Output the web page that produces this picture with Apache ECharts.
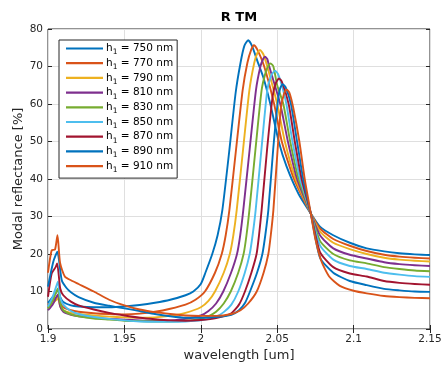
<!DOCTYPE html>
<html>
<head>
<meta charset="utf-8">
<script src="https://cdn.jsdelivr.net/npm/echarts@6/dist/echarts.min.js"></script>
<style>
html,body{margin:0;padding:0;background:#fff;}
#chart{width:444px;height:368px;}
</style>
</head>
<body>
<div id="chart"></div>
<script>
// thickness h1 values (nm) for each series
const h1Values = [750, 770, 790, 810, 830, 850, 870, 890, 910];
const seriesColors = ['#0072BD', '#D95319', '#EDB120', '#7E2F8E', '#77AC30', '#4DBEEE', '#A2142F', '#0072BD', '#D95319'];
const xTicks = [1.9, 1.95, 2, 2.05, 2.1, 2.15];
const yTicks = [0, 10, 20, 30, 40, 50, 60, 70, 80];

// [wavelength um, modal reflectance %]
const r750 = [[1.9,7],[1.903,8.5],[1.9055,9.8],[1.9065,10.5],[1.908,8.5],[1.91,7.2],[1.915,6.3],[1.92,6],[1.93,5.8],[1.94,5.8],[1.95,6],[1.96,6.4],[1.97,7],[1.98,7.8],[1.99,9],[1.9951,10],[2.0,12],[2.003,15],[2.0075,20],[2.011,25],[2.0141,31.7],[2.0185,47],[2.0228,63],[2.026,71],[2.0285,75.5],[2.031,77],[2.0335,75.5],[2.037,71.5],[2.041,67],[2.0455,60],[2.051,50],[2.056,43.5],[2.064,36],[2.072,30.8],[2.078,27.3],[2.0867,25],[2.0975,23],[2.1086,21.5],[2.12,20.7],[2.13,20.2],[2.14,19.9],[2.15,19.7]];
const r770 = [[1.9,6.5],[1.903,7.5],[1.9055,8.5],[1.9065,9],[1.908,7],[1.91,5.8],[1.915,5],[1.92,4.6],[1.93,4.2],[1.94,4],[1.95,3.9],[1.96,4.1],[1.97,4.6],[1.98,5.4],[1.99,6.5],[1.9965,7.8],[2.0027,10],[2.0093,15],[2.0137,20],[2.0163,25],[2.0187,31.7],[2.0231,48],[2.0274,63.7],[2.0305,71],[2.033,74.5],[2.0348,75.7],[2.037,74.5],[2.0415,70],[2.048,60],[2.053,50],[2.061,40],[2.072,30.8],[2.078,26.8],[2.0867,24],[2.0975,22.2],[2.1086,20.8],[2.12,19.8],[2.13,19.3],[2.14,19],[2.15,18.8]];
const r790 = [[1.9,5.5],[1.903,6.8],[1.9055,7.8],[1.9065,8.2],[1.908,6],[1.91,5],[1.915,4.3],[1.92,4],[1.93,3.6],[1.94,3.3],[1.95,3.1],[1.96,3],[1.97,3.1],[1.98,3.5],[1.99,4.3],[2.0,5.8],[2.005,7.5],[2.0093,10],[2.015,15],[2.019,20],[2.0213,25],[2.0235,31.7],[2.0277,48],[2.0318,63.7],[2.035,71],[2.037,73.6],[2.0387,74.4],[2.041,73.2],[2.0435,70],[2.05,60],[2.055,50],[2.062,40],[2.072,30.8],[2.078,26],[2.0867,23],[2.0975,21.3],[2.1086,20],[2.12,19],[2.13,18.5],[2.14,18.2],[2.15,18]];
const r810 = [[1.9,5],[1.903,6.5],[1.9055,8.5],[1.9065,9.2],[1.908,6],[1.91,4.6],[1.915,3.8],[1.92,3.4],[1.93,3],[1.94,2.7],[1.95,2.5],[1.96,2.3],[1.97,2.2],[1.98,2.3],[1.99,2.7],[2.0,3.6],[2.005,4.8],[2.01,6.8],[2.0147,10],[2.0198,15],[2.0237,20],[2.0258,25],[2.0278,31.7],[2.032,48],[2.0361,63.7],[2.039,70],[2.0408,72],[2.042,72.6],[2.0435,72],[2.0448,70],[2.052,60],[2.057,50],[2.063,40],[2.072,30.8],[2.078,25],[2.0867,21.5],[2.0975,19.8],[2.1086,18.8],[2.12,17.8],[2.13,17.3],[2.14,17],[2.15,16.8]];
const r830 = [[1.9,5.5],[1.903,7.5],[1.9055,10],[1.9065,10.8],[1.908,7],[1.91,5],[1.915,3.9],[1.92,3.4],[1.93,2.8],[1.94,2.5],[1.95,2.2],[1.96,2.1],[1.97,2],[1.98,2],[1.99,2.2],[2.0,2.7],[2.005,3.4],[2.01,4.6],[2.015,6.8],[2.0196,10],[2.0245,15],[2.028,20],[2.0299,25],[2.0318,31.7],[2.0358,48],[2.0398,63.7],[2.0425,68.5],[2.0445,70.4],[2.0457,70.8],[2.0475,70],[2.05,65],[2.054,60],[2.0585,50],[2.064,40],[2.072,30.8],[2.078,23.5],[2.0867,20],[2.0975,18.3],[2.1086,17.5],[2.12,16.5],[2.13,16],[2.14,15.6],[2.15,15.4]];
const r850 = [[1.9,6],[1.903,8.5],[1.9055,11.5],[1.9065,12.6],[1.908,8.5],[1.91,6.5],[1.915,4.8],[1.92,4],[1.93,3.2],[1.94,2.7],[1.95,2.3],[1.96,2],[1.97,1.9],[1.98,1.9],[1.99,2],[2.0,2.3],[2.01,3.3],[2.015,4.5],[2.02,6.5],[2.0245,10],[2.0288,15],[2.032,20],[2.0339,25],[2.0359,31.7],[2.0397,48],[2.0435,63.7],[2.046,67.5],[2.0486,68.9],[2.0505,68],[2.053,65],[2.056,60],[2.06,50],[2.065,40],[2.072,30.8],[2.078,22.3],[2.0867,18.5],[2.0975,16.8],[2.1086,16],[2.12,15],[2.13,14.5],[2.14,14.1],[2.15,13.9]];
const r870 = [[1.9,8.6],[1.9024,14.8],[1.905,16.5],[1.906,17.5],[1.908,10.8],[1.91,9],[1.915,7.3],[1.92,6.3],[1.93,5.2],[1.94,4.3],[1.95,3.6],[1.96,3],[1.97,2.6],[1.98,2.3],[1.99,2.2],[2.0,2.4],[2.01,2.9],[2.02,4.2],[2.025,6.5],[2.0289,10],[2.0331,15],[2.0365,20],[2.0381,25],[2.0398,31.7],[2.0434,48],[2.047,62],[2.049,65.5],[2.0512,66.8],[2.053,66],[2.0575,60],[2.0615,50],[2.066,40],[2.072,30.8],[2.078,20.5],[2.0867,16.5],[2.0975,14.8],[2.1086,14],[2.12,12.8],[2.13,12.3],[2.14,12],[2.15,11.8]];
const r890 = [[1.9,11.3],[1.9035,18],[1.9061,20.6],[1.909,13],[1.912,11],[1.915,9.8],[1.92,8.5],[1.93,7],[1.94,6.2],[1.95,5.5],[1.96,4.8],[1.97,4],[1.98,3.4],[1.99,3],[2.0,3],[2.01,3.2],[2.02,3.8],[2.025,5],[2.029,7],[2.0322,10],[2.0368,15],[2.0403,20],[2.0422,25],[2.0442,31.7],[2.0474,48],[2.0505,61],[2.052,64.3],[2.0536,65.3],[2.0555,64.5],[2.059,60],[2.063,50],[2.067,40],[2.072,30.8],[2.078,19],[2.0867,15],[2.0975,12.8],[2.1086,11.7],[2.12,10.7],[2.13,10.3],[2.14,10],[2.15,9.9]];
const r910 = [[1.9,15],[1.9024,21],[1.9046,21.2],[1.9062,25],[1.9079,17.6],[1.911,14],[1.915,13],[1.92,12],[1.93,10],[1.94,7.8],[1.95,6.3],[1.96,5.2],[1.97,4.5],[1.98,4],[1.99,3.6],[2.0,3.5],[2.01,3.5],[2.02,4],[2.026,5],[2.031,6.8],[2.0366,10],[2.0411,15],[2.0442,20],[2.0458,25],[2.0475,31.7],[2.0503,48],[2.0525,59],[2.0545,62.8],[2.0562,63.9],[2.058,63],[2.0605,59],[2.0645,50],[2.068,40],[2.072,30.8],[2.075,24],[2.079,18],[2.084,14],[2.091,11.5],[2.1,10.2],[2.1086,9.5],[2.12,8.8],[2.13,8.5],[2.14,8.3],[2.15,8.2]];

const allData = [r750, r770, r790, r810, r830, r850, r870, r890, r910];

const chart = echarts.init(document.getElementById('chart'), null, {renderer: 'canvas'});
const axisColor = '#262626';
const fmtX = v => String(parseFloat(Number(v).toFixed(2)));

const series = h1Values.map((h, i) => ({
  name: 'h1 = ' + h + ' nm',
  type: 'line',
  data: allData[i],
  xAxisIndex: 0,
  yAxisIndex: 0,
  showSymbol: false,
  symbol: 'none',
  smooth: 0.2,
  lineStyle: {width: 1.9, color: seriesColors[i], join: 'round'},
  itemStyle: {color: seriesColors[i]},
  emphasis: {disabled: true},
  animation: false,
  clip: true
}));

const baseX = {
  type: 'value', min: xTicks[0], max: xTicks[xTicks.length - 1], interval: 0.05,
  splitLine: {show: false}, axisLine: {show: false},
  axisTick: {show: true, inside: true, length: 4, lineStyle: {color: axisColor, width: 1}},
  axisLabel: {show: false}
};
const baseY = {
  type: 'value', min: yTicks[0], max: yTicks[yTicks.length - 1], interval: 10,
  splitLine: {show: false}, axisLine: {show: false},
  axisTick: {show: true, inside: true, length: 4, lineStyle: {color: axisColor, width: 1}},
  axisLabel: {show: false}
};

chart.setOption({
  animation: false,
  backgroundColor: '#fff',
  title: {
    text: 'R TM', left: 239, top: 11, textAlign: 'center', padding: 0,
    textStyle: {fontFamily: 'DejaVu Sans', fontSize: 13, fontWeight: 'bold', color: '#000'}
  },
  grid: {
    left: 48, right: 14, top: 29, bottom: 39, containLabel: false,
    outerBoundsMode: 'none',
    show: true, borderColor: axisColor, borderWidth: 1, backgroundColor: '#fff'
  },
  legend: {
    orient: 'vertical', left: 59, top: 40,
    padding: [3, 4, 4, 7],
    itemGap: 1.2,
    itemWidth: 37, itemHeight: 2.2,
    icon: 'rect',
    borderColor: axisColor, borderWidth: 1, backgroundColor: '#fff',
    selectedMode: false,
    formatter: name => {
      const h = name.replace('h1 = ', '');
      return '{a|h}{s|1}{a| = ' + h + '}';
    },
    textStyle: {
      fontFamily: 'DejaVu Sans', color: '#000', padding: [0, 0, 0, -2],
      rich: {
        a: {fontFamily: 'DejaVu Sans', fontSize: 10.5, lineHeight: 16, color: '#000', verticalAlign: 'middle'},
        s: {fontFamily: 'DejaVu Sans', fontSize: 7.5, lineHeight: 8, color: '#000', verticalAlign: 'bottom'}
      }
    }
  },
  xAxis: [
    Object.assign({}, baseX, {
      position: 'bottom',
      name: 'wavelength [um]', nameLocation: 'middle', nameGap: 20, nameMoveOverlap: false,
      nameTextStyle: {fontFamily: 'DejaVu Sans', fontSize: 13, color: axisColor},
      splitLine: {show: true, lineStyle: {color: '#dfdfdf', width: 1}},
      axisLabel: {show: true, margin: 5, color: axisColor, fontFamily: 'DejaVu Sans', fontSize: 10.5,
        formatter: fmtX, showMinLabel: true, showMaxLabel: true, hideOverlap: false}
    }),
    Object.assign({}, baseX, {position: 'top'})
  ],
  yAxis: [
    Object.assign({}, baseY, {
      position: 'left',
      name: 'Modal reflectance [%]', nameLocation: 'middle', nameGap: 23, nameMoveOverlap: false,
      nameTextStyle: {fontFamily: 'DejaVu Sans', fontSize: 13, color: axisColor},
      splitLine: {show: true, lineStyle: {color: '#dfdfdf', width: 1}},
      axisLabel: {show: true, margin: 5, color: axisColor, fontFamily: 'DejaVu Sans', fontSize: 10.5,
        showMinLabel: true, showMaxLabel: true, hideOverlap: false}
    }),
    Object.assign({}, baseY, {position: 'right'})
  ],
  series: series
});
</script>
</body>
</html>
